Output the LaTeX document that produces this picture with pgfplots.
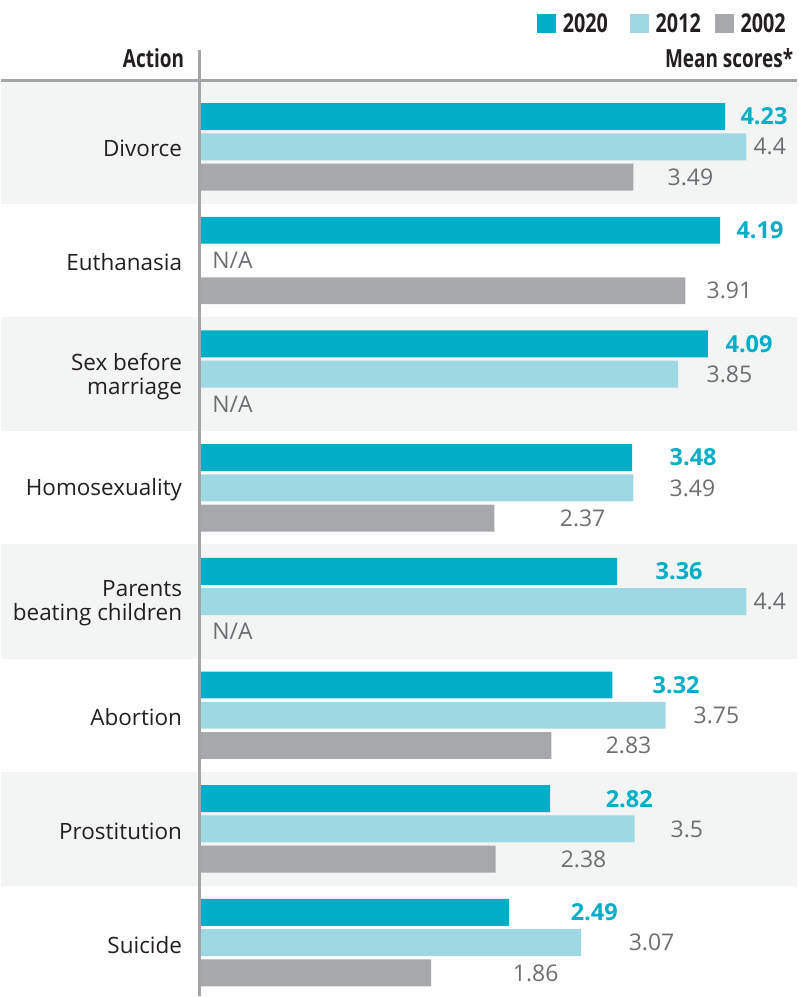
\documentclass[border=0pt]{standalone}
\usepackage{pgfplots}
\pgfplotsset{compat=1.18}
\usepackage{fontspec}
\usepackage{graphicx}
\setmainfont{Open Sans}
\definecolor{cA}{HTML}{00AFC7}
\definecolor{cB}{HTML}{9ED8E2}
\definecolor{cC}{HTML}{A7A8AC}
\definecolor{band}{HTML}{F3F4F4}
\definecolor{numgray}{HTML}{6D6E71}
\definecolor{txt}{HTML}{231F20}
\definecolor{rule}{HTML}{A3A4A8}
\newcommand\vl[3]{\node[anchor=west,inner sep=0pt,text=numgray,font=\fontsize{23}{23}\selectfont] at (#1,#2) {#3};}
\newcommand\vb[3]{\node[anchor=west,inner sep=0pt,text=cA,font=\fontsize{23.5}{23}\selectfont\bfseries] at (#1,#2) {#3};}
\newcommand\cat[2]{\node[anchor=east,align=right,inner sep=0pt,text=txt,font=\fontsize{22.5}{24}\selectfont] at (181,#1+2) {#2};}
\begin{document}
\begin{tikzpicture}
\begin{scope}[x=1pt,y=-1pt]
\path[use as bounding box] (0,0) rectangle (797,997);
\fill[band] (0,82) rectangle (797,204.5);
\fill[band] (0,317.5) rectangle (797,432);
\fill[band] (0,545) rectangle (797,659.5);
\fill[band] (0,773) rectangle (797,887);
\end{scope}
\begin{axis}[
  at={(199pt,-997pt)}, anchor=south west,
  width=598pt, height=915pt, scale only axis,
  xmin=0, xmax=4.811, ymin=-7.465, ymax=0.571,
  hide axis, clip=false,
]
\addplot[xbar, bar shift=0pt, bar width=27pt, fill=cA, draw=none] coordinates {
(4.23,0.266) (4.19,-0.734) (4.09,-1.734) (3.48,-2.734) (3.36,-3.734) (3.32,-4.734) (2.82,-5.734) (2.49,-6.734)};
\addplot[xbar, bar shift=0pt, bar width=27pt, fill=cB, draw=none] coordinates {
(4.4,0) (3.85,-2) (3.49,-3) (4.4,-4) (3.75,-5) (3.5,-6) (3.07,-7)};
\addplot[xbar, bar shift=0pt, bar width=27pt, fill=cC, draw=none] coordinates {
(3.49,-0.266) (3.91,-1.266) (2.37,-3.266) (2.83,-5.266) (2.38,-6.266) (1.86,-7.266)};
\end{axis}
\begin{scope}[x=1pt,y=-1pt]
\draw[rule, line width=3pt] (0,80.5) -- (797,80.5);
\draw[rule, line width=3pt] (198.5,50) -- (198.5,997);
% header
\node[anchor=base east,inner sep=0pt,text=txt,font=\fontsize{25}{25}\selectfont\bfseries] at (183,68) {\scalebox{0.76}[1]{Action}};
\node[anchor=base east,inner sep=0pt,text=txt,font=\fontsize{25}{25}\selectfont\bfseries] at (793,68) {\scalebox{0.76}[1]{Mean scores*}};
\fill[cA] (536,14) rectangle (555,33);
\fill[cB] (629,14) rectangle (648,33);
\fill[cC] (715,14) rectangle (734,33);
\node[anchor=base west,inner sep=0pt,text=txt,font=\fontsize{26}{26}\selectfont\bfseries] at (562,33) {\scalebox{0.76}[1]{2020}};
\node[anchor=base west,inner sep=0pt,text=txt,font=\fontsize{26}{26}\selectfont\bfseries] at (655,33) {\scalebox{0.76}[1]{2012}};
\node[anchor=base west,inner sep=0pt,text=txt,font=\fontsize{26}{26}\selectfont\bfseries] at (740,33) {\scalebox{0.76}[1]{2002}};
% categories
\cat{147}{Divorce}
\cat{260.9}{Euthanasia}
\cat{374.7}{Sex before\\marriage}
\cat{488.6}{Homosexuality}
\cat{602.4}{Parents\\beating children}
\cat{716.3}{Abortion}
\cat{830.2}{Prostitution}
\cat{944}{Suicide}
% value labels
\vb{740}{116.7}{4.23} \vl{753}{147}{4.4} \vl{667}{177.3}{3.49}
\vb{736}{230.6}{4.19} \vl{211}{260.9}{N/A} \vl{706}{291.2}{3.91}
\vb{725}{344.4}{4.09} \vl{706}{374.7}{3.85} \vl{211}{405}{N/A}
\vb{669}{458.3}{3.48} \vl{669}{488.6}{3.49} \vl{559}{518.9}{2.37}
\vb{655}{572.1}{3.36} \vl{753}{602.4}{4.4} \vl{211}{632.7}{N/A}
\vb{652}{686}{3.32} \vl{693}{716.3}{3.75} \vl{605}{746.6}{2.83}
\vb{605}{799.9}{2.82} \vl{670}{830.2}{3.5} \vl{560}{860.5}{2.38}
\vb{570}{913.7}{2.49} \vl{628}{944}{3.07} \vl{512}{974.3}{1.86}
\end{scope}
\end{tikzpicture}
\end{document}
